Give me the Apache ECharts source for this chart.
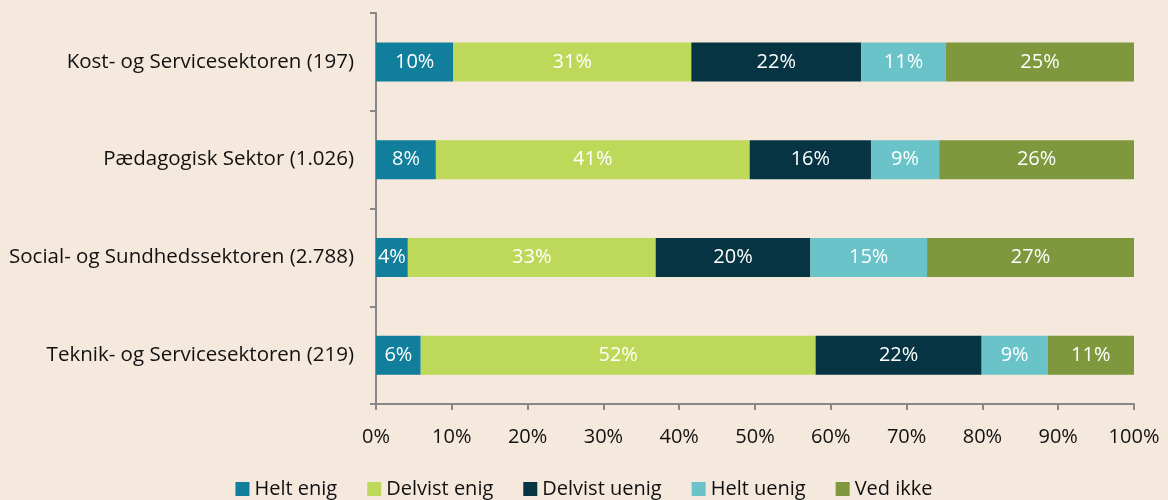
<!DOCTYPE html>
<html>
<head>
<meta charset="utf-8">
<script src="https://cdn.jsdelivr.net/npm/echarts@6/dist/echarts.min.js"></script>
<style>
  html, body { margin: 0; padding: 0; background: #F5E8DC; }
  #main { width: 1168px; height: 500px; }
</style>
</head>
<body>
<div id="main"></div>
<script>
// data (shares in %)
var sectors = ['Kost- og Servicesektoren (197)', 'Pædagogisk Sektor (1.026)',
               'Social- og Sundhedssektoren (2.788)', 'Teknik- og Servicesektoren (219)'];
var heltEnig     = [10.2, 7.9, 4.2, 5.9];
var delvistEnig  = [31.4, 41.4, 32.7, 52.1];
var delvistUenig = [22.4, 16.0, 20.4, 21.9];
var heltUenig    = [11.2, 9.0, 15.4, 8.7];
var vedIkke      = [24.8, 25.7, 27.3, 11.4];
var xTicks = ['0%', '10%', '20%', '30%', '40%', '50%', '60%', '70%', '80%', '90%', '100%'];

var seriesDefs = [
    { name: 'Helt enig', data: heltEnig, color: '#117E9C' },
    { name: 'Delvist enig', data: delvistEnig, color: '#BED95A' },
    { name: 'Delvist uenig', data: delvistUenig, color: '#073442' },
    { name: 'Helt uenig', data: heltUenig, color: '#69C3C8' },
    { name: 'Ved ikke', data: vedIkke, color: '#7F973D' }
];

var font = '"Open Sans", "Noto Sans", sans-serif';
var myChart = echarts.init(document.getElementById('main'));

myChart.setOption({
    backgroundColor: '#F5E8DC',
    animation: false,
    textStyle: { fontFamily: font },
    grid: { left: 376, right: 34, top: 13, bottom: 96 },
    legend: {
        top: 474,
        left: 'center',
        icon: 'rect',
        itemWidth: 14,
        itemHeight: 14,
        itemGap: 30,
        textStyle: { fontSize: 20, color: '#111', fontFamily: font },
        data: seriesDefs.map(function (s) { return s.name; })
    },
    xAxis: {
        type: 'value',
        min: 0,
        max: 100,
        interval: 10,
        axisLine: { show: true, lineStyle: { color: '#888', width: 2 } },
        axisTick: { show: true, length: 6, lineStyle: { color: '#888', width: 2 } },
        splitLine: { show: false },
        axisLabel: {
            margin: 23,
            fontSize: 20,
            color: '#111',
            formatter: function (v) { return xTicks[Math.round(v / 10)]; }
        }
    },
    yAxis: {
        type: 'category',
        inverse: true,
        data: sectors,
        axisLine: { show: true, lineStyle: { color: '#888', width: 2 } },
        axisTick: { show: true, length: 6, lineStyle: { color: '#888', width: 2 } },
        axisLabel: { margin: 22, fontSize: 20.5, color: '#111' }
    },
    series: seriesDefs.map(function (s) {
        return {
            name: s.name,
            type: 'bar',
            stack: 'total',
            barWidth: 39,
            data: s.data,
            itemStyle: { color: s.color },
            label: {
                show: true,
                position: 'inside',
                color: '#fff',
                fontSize: 20,
                fontFamily: font,
                formatter: function (p) { return Math.round(p.value) + '%'; }
            }
        };
    })
});
window.onresize = function () {
    myChart.resize();
};
</script>
</body>
</html>
